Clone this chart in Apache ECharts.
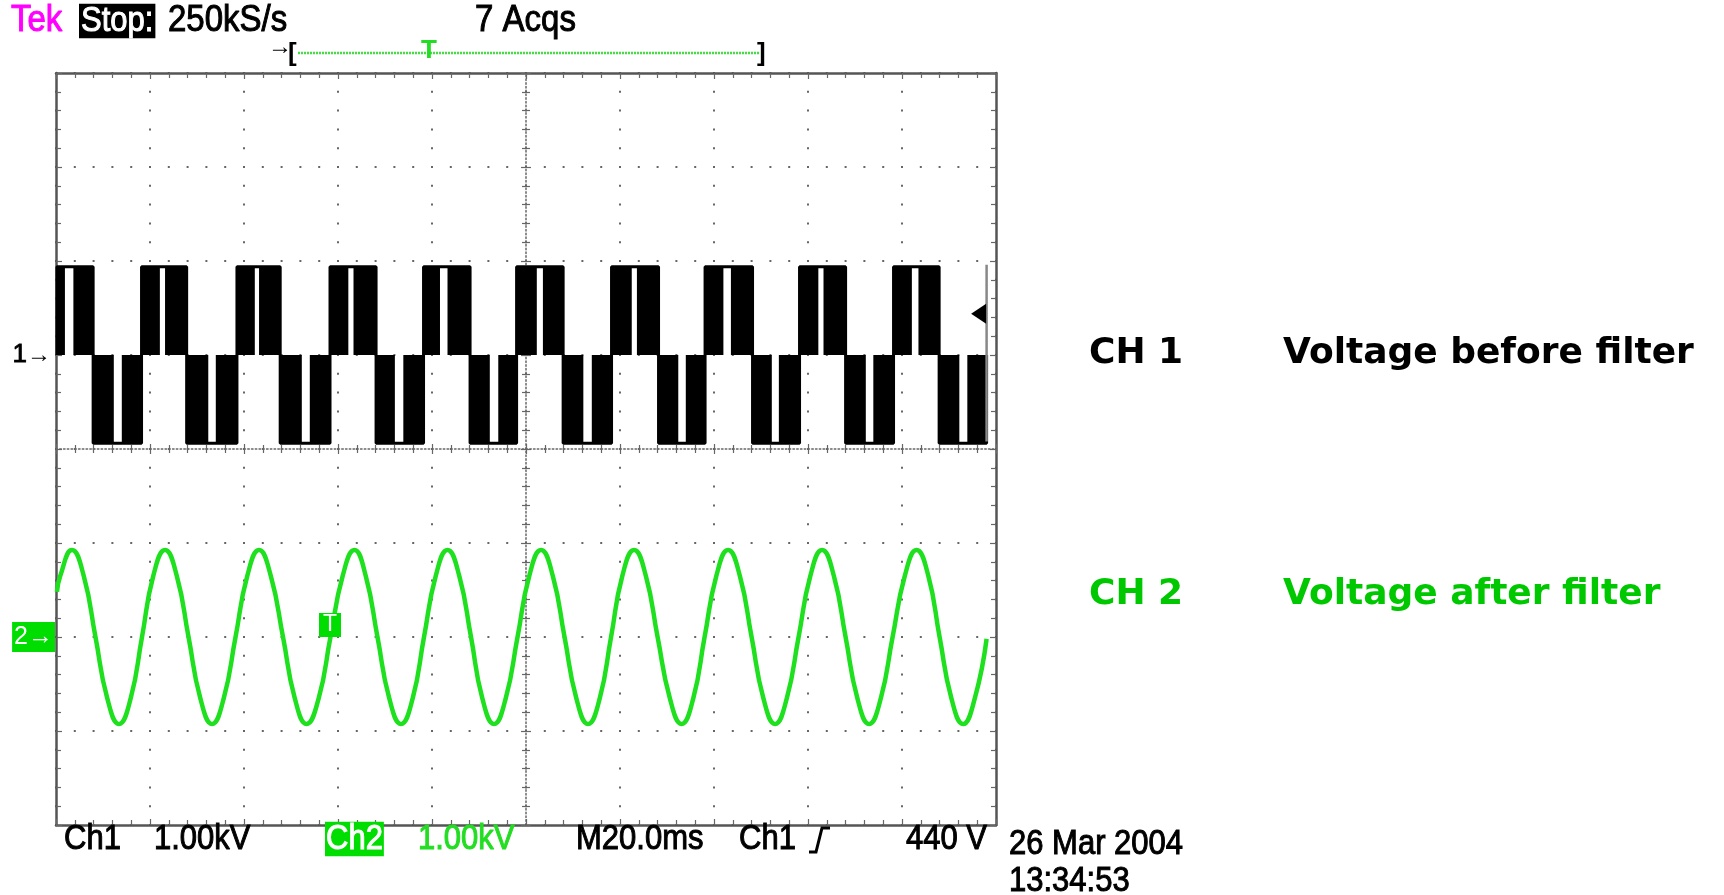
<!DOCTYPE html>
<html><head><meta charset="utf-8">
<script src="https://cdn.jsdelivr.net/npm/echarts@6/dist/echarts.min.js"></script>
<style>html,body{margin:0;padding:0;background:#fff}#c{width:1724px;height:895px}</style>
</head><body><div id="c"></div>
<script>
// ---------- DATA ----------
// time axis: 10 divisions x 20 ms
const timeMin = 0, timeMax = 200, timeDiv = 20;
// CH1 (1 kV/div): PWM half-cycles [start, notchStart, notchEnd, end] in ms
const ch1PosHalves = [
  [0.2, 1.9, 3.7, 7.9],
  [18.2, 22.1, 23.2, 27.8],
  [38.5, 42.3, 43.2, 47.7],
  [58.3, 62.2, 63.3, 68.1],
  [78.2, 81.7, 83.3, 88.1],
  [98.0, 102.3, 103.6, 107.9],
  [118.2, 122.5, 123.6, 128.2],
  [138.1, 142.0, 143.6, 148.2],
  [158.2, 162.2, 163.3, 168.0],
  [178.2, 182.1, 183.5, 187.9]
];
const ch1NegHalves = [
  [7.9, 12.3, 14.0, 18.2],
  [27.8, 32.4, 34.0, 38.5],
  [47.7, 52.3, 54.0, 58.3],
  [68.1, 72.1, 73.9, 78.2],
  [88.1, 92.3, 94.1, 98.0],
  [107.9, 112.2, 114.0, 118.2],
  [128.2, 132.4, 134.0, 138.1],
  [148.2, 152.3, 153.8, 158.2],
  [168.0, 172.3, 173.9, 178.2],
  [187.9, 192.2, 193.9, 198.0]
];
const ch1HighV = 940, ch1LowV = -940;   // volts
const ch1TailV = [960, -920];           // faint last sample column at record end
const triggerLevelV = 440;
const triggerTimeMs = 58.3;
// CH2 (1 kV/div): sine after filter, [ms, V]
const ch2Times = [0.2,0.9,3.4,5.9,8.4,10.9,13.4,15.9,18.3,20.7,23.2,25.7,28.2,30.7,33.2,35.7,38.2,40.7,43.2,45.7,
  48.3,50.8,53.3,55.9,58.4,61.0,63.5,65.9,68.4,70.9,73.4,75.9,78.3,80.8,83.3,85.8,88.3,90.7,93.2,95.7,
  98.2,100.7,103.2,105.7,108.2,110.7,113.2,115.7,118.1,120.5,123.0,125.5,128.0,130.6,133.1,135.6,138.0,140.5,143.0,145.5,
  148.0,150.5,153.0,155.5,158.0,160.5,163.0,165.5,168.0,170.5,173.0,175.5,178.0,180.6,183.1,185.6,188.0,190.5,193.0,195.5,198.0];
const ch2Volts = [480,650,925,650,0,-650,-925,-650,0,650,925,650,0,-650,-925,-650,0,650,925,650,
  0,-650,-925,-650,0,650,925,650,0,-650,-925,-650,0,650,925,650,0,-650,-925,-650,
  0,650,925,650,0,-650,-925,-650,0,650,925,650,0,-650,-925,-650,0,650,925,650,
  0,-650,-925,-650,0,650,925,650,0,-650,-925,-650,0,650,925,650,0,-650,-925,-650,-20];
// channel axes (volts), offsets of the channel ground markers
const ch1AxisMin = -5000, ch1AxisMax = 3000;
const ch2AxisMin = -2000, ch2AxisMax = 6000;
const voltDiv = 1000;

// ---------- build ----------
const blocks = [];
ch1PosHalves.forEach(h => { blocks.push([h[0], h[1], ch1HighV]); blocks.push([h[2], h[3], ch1HighV]); });
ch1NegHalves.forEach(h => { blocks.push([h[0], h[1], ch1LowV]); blocks.push([h[2], h[3], ch1LowV]); });
const halves = ch1PosHalves.map(h => [h, ch1HighV]).concat(ch1NegHalves.map(h => [h, ch1LowV]))
  .sort((a, b) => a[0][0] - b[0][0]);
const envelope = [];
halves.forEach(([h, lv]) => {
  envelope.push([h[0], 0], [h[0], lv], [h[3], lv], [h[3], 0]);
});
const lastT = halves[halves.length - 1][0][3];
const tail = [[lastT, ch1TailV[0]], [lastT, ch1TailV[1]]];
const ch2Data = ch2Times.map((t, i) => [t, ch2Volts[i]]);

const RO = '"Liberation Sans", Arial, sans-serif';
const DV = '"DejaVu Sans", sans-serif';
const GREEN = '#1ee01e';
const dotGrey = '#666', border = '#555';
function txt(text, x, y, o, sy) {
  return { type: 'text', x: x, y: y, z: 100, scaleY: sy || 1, style: Object.assign({
    text: text, fontSize: 32, fontFamily: RO, fill: '#000',
    verticalAlign: 'middle', textVerticalAlign: 'middle', align: 'left'
  }, o || {}) };
}
function ro(text, x, y, o) {
  const f = (o && o.fill) || '#000';
  return txt(text, x, y, Object.assign({ fontSize: 31, stroke: f, lineWidth: 0.9 }, o || {}), 1.12);
}
const gratX = { min: -5, max: 5, interval: 1 };
const gratY = { min: -4, max: 4, interval: 1 };
const borderAxisCommon = {
  type: 'value', axisLabel: { show: false }, splitLine: { show: false },
  axisLine: { show: true, onZero: false, lineStyle: { color: border, width: 2.5 } },
  axisTick: { show: true, inside: true, length: 6, lineStyle: { color: dotGrey, width: 1.2 } },
  minorTick: { show: true, splitNumber: 5, length: 5, lineStyle: { color: dotGrey, width: 1.2 } }
};
const centerAxis = (inside) => ({
  type: 'value', axisLabel: { show: false }, splitLine: { show: false },
  axisTick: { show: true, inside: inside, length: 5, lineStyle: { color: dotGrey, width: 1.2 } },
  minorTick: { show: true, splitNumber: 5, length: 4, lineStyle: { color: dotGrey, width: 1.2 } }
});

const option = {
  animation: false,
  backgroundColor: '#fff',
  grid: { left: 56, top: 73, width: 940, height: 752, containLabel: false, outerBoundsMode: 'none' },
  xAxis: [
    { type: 'value', min: timeMin, max: timeMax, interval: timeDiv, show: false, axisLine: { onZero: false } },
    Object.assign({}, borderAxisCommon, gratX, { position: 'bottom',
      splitLine: { show: true, lineStyle: { color: dotGrey, width: 2, type: [2, 16.8], dashOffset: 1 } } }),
    Object.assign({}, borderAxisCommon, gratX, { position: 'top' }),
    Object.assign(centerAxis(true), gratX, { position: 'bottom',
      axisLine: { show: true, onZero: true, onZeroAxisIndex: 2, lineStyle: { color: dotGrey, width: 1.5, type: [1.5, 2.26] } } }),
    Object.assign(centerAxis(false), gratX, { position: 'bottom',
      axisLine: { show: false, onZero: true, onZeroAxisIndex: 2 } })
  ],
  yAxis: [
    { type: 'value', min: ch1AxisMin, max: ch1AxisMax, interval: voltDiv, position: 'left',
      axisLine: { show: false, onZero: false }, axisTick: { show: false }, splitLine: { show: false },
      axisLabel: { show: true, margin: 5,
        formatter: v => v === 0 ? '{n|1}{a|→}' : '',
        rich: { n: { fontSize: 26, fontFamily: RO, color: '#000', textBorderColor: '#000', textBorderWidth: 0.8 },
                a: { fontSize: 24, fontFamily: RO, color: '#000', fontWeight: 'bold' } } } },
    { type: 'value', min: ch2AxisMin, max: ch2AxisMax, interval: voltDiv, position: 'left',
      axisLine: { show: false, onZero: false }, axisTick: { show: false }, splitLine: { show: false },
      axisLabel: { show: true, margin: 1,
        formatter: v => v === 0 ? '{b|2→}' : '',
        rich: { b: { fontSize: 25, fontFamily: RO, color: '#fff', backgroundColor: '#00dd00', padding: [3, 2, 2, 2] } } } },
    Object.assign({}, borderAxisCommon, gratY, { position: 'left',
      splitLine: { show: true, lineStyle: { color: dotGrey, width: 2, type: [2, 16.8], dashOffset: 1 } } }),
    Object.assign({}, borderAxisCommon, gratY, { position: 'right' }),
    Object.assign(centerAxis(true), gratY, { position: 'left',
      axisLine: { show: true, onZero: true, onZeroAxisIndex: 1, lineStyle: { color: dotGrey, width: 1.5, type: [1.5, 2.26] } } }),
    Object.assign(centerAxis(false), gratY, { position: 'left',
      axisLine: { show: false, onZero: true, onZeroAxisIndex: 1 } })
  ],
  series: [
    { type: 'custom', name: 'CH1 fill', xAxisIndex: 0, yAxisIndex: 0, z: 3,
      data: blocks, encode: { x: [0, 1], y: 2 },
      renderItem: function (params, api) {
        const a = api.coord([api.value(0), api.value(2)]);
        const b = api.coord([api.value(1), 0]);
        return { type: 'rect', shape: { x: a[0], y: Math.min(a[1], b[1]), width: b[0] - a[0], height: Math.abs(b[1] - a[1]) },
          style: { fill: '#000' } };
      } },
    { type: 'line', name: 'CH1', xAxisIndex: 0, yAxisIndex: 0, z: 4, data: envelope,
      showSymbol: false, lineStyle: { color: '#000', width: 3 },
      markPoint: { silent: true, symbol: 'triangle', symbolSize: [20, 15], symbolRotate: 90,
        itemStyle: { color: '#000' }, label: { show: false },
        data: [{ coord: [196.3, triggerLevelV] }] } },
    { type: 'line', name: 'CH1 tail', xAxisIndex: 0, yAxisIndex: 0, z: 4, data: tail,
      showSymbol: false, lineStyle: { color: '#888', width: 2.5 } },
    { type: 'line', name: 'CH2', xAxisIndex: 0, yAxisIndex: 1, z: 4, data: ch2Data,
      showSymbol: false, smooth: 0.5, lineStyle: { color: GREEN, width: 4.5 },
      markPoint: { silent: true, symbol: 'rect', symbolSize: [22, 24], symbolOffset: [0, -12],
        itemStyle: { color: '#00dd00' },
        label: { show: true, position: 'inside', formatter: 'T', color: '#fff', fontSize: 23, fontFamily: RO },
        data: [{ coord: [triggerTimeMs, 0] }] } }
  ],
  graphic: [
    ro('Tek', 11, 21, { fill: '#ff00ff', fontSize: 33 }),
    ro('Stop:', 79, 21, { fill: '#fff', stroke: '#fff', backgroundColor: '#000', padding: [0, 2, 0, 2] }),
    ro('250kS/s', 168, 21, { fontSize: 33 }),
    ro('7 Acqs', 475, 21, { fontSize: 33 }),
    txt('→', 268, 47, { fontSize: 24, fontWeight: 'bold' }),
    txt('[', 288, 54, { fontSize: 26, fontWeight: 'bold' }),
    { type: 'line', z: 100, shape: { x1: 298, y1: 53, x2: 759, y2: 53 }, style: { stroke: '#44dd44', lineWidth: 2.5, lineDash: [2, 1] } },
    txt('T', 429, 51, { fill: '#22dd22', fontSize: 26, align: 'center', fontWeight: 'bold' }),
    txt(']', 757, 54, { fontSize: 26, fontWeight: 'bold' }),
    ro('Ch1', 64, 839),
    ro('1.00kV', 154, 839),
    ro('Ch2', 325, 839, { fill: '#fff', stroke: '#fff', backgroundColor: '#00dd00', padding: [0, 1, 0, 1] }),
    ro('1.00kV', 418, 839, { fill: '#22dd22' }),
    ro('M20.0ms', 576, 839),
    ro('Ch1', 739, 839),
    { type: 'polyline', z: 100, shape: { points: [[809, 852], [816, 852], [822, 828], [830, 828]] }, style: { stroke: '#000', lineWidth: 3, fill: null } },
    ro('440 V', 987, 839, { align: 'right' }),
    ro('26 Mar 2004', 1009, 844),
    ro('13:34:53', 1009, 881),
    txt('CH 1', 1089, 354, { fontFamily: DV, fontWeight: 'bold', fontSize: 36 }),
    txt('Voltage before filter', 1283, 354, { fontFamily: DV, fontWeight: 'bold', fontSize: 36 }),
    txt('CH 2', 1089, 595, { fill: '#00c800', fontFamily: DV, fontWeight: 'bold', fontSize: 36 }),
    txt('Voltage after filter', 1283, 595, { fill: '#00c800', fontFamily: DV, fontWeight: 'bold', fontSize: 36 })
  ]
};
const chart = echarts.init(document.getElementById('c'), null, { renderer: 'canvas' });
chart.setOption(option);
</script></body></html>
